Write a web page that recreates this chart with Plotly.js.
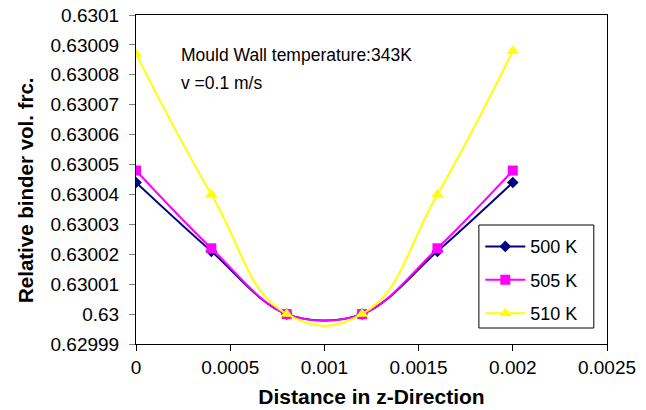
<!DOCTYPE html>
<html>
<head>
<meta charset="utf-8">
<script src="https://cdn.plot.ly/plotly-3.0.1.min.js"></script>
<style>html,body{margin:0;padding:0;background:#fff;}#chart{width:646px;height:410px;}</style>
</head>
<body>
<div id="chart"></div>
<script>
// Positions along z (m)
const distance = [0, 0.0004, 0.0008, 0.0012, 0.0016, 0.002];
// Relative binder volume fraction per melt temperature
const binder500 = [0.630044, 0.630021, 0.630000, 0.630000, 0.630021, 0.630044];
const binder505 = [0.630048, 0.630022, 0.630000, 0.630000, 0.630022, 0.630048];
const binder510 = [0.630087, 0.630040, 0.630000, 0.630000, 0.630040, 0.630088];
const seriesNames = ['500 K', '505 K', '510 K'];

const yTickVals = [0.62999, 0.63, 0.63001, 0.63002, 0.63003, 0.63004, 0.63005, 0.63006, 0.63007, 0.63008, 0.63009, 0.6301];
const yTickText = ['0.62999', '0.63', '0.63001', '0.63002', '0.63003', '0.63004', '0.63005', '0.63006', '0.63007', '0.63008', '0.63009', '0.6301'];
const xTickVals = [0, 0.0005, 0.001, 0.0015, 0.002, 0.0025];
const xTickText = ['0', '0.0005', '0.001', '0.0015', '0.002', '0.0025'];

const FONT = 'Liberation Sans, Arial, sans-serif';

function series(y, name, color, symbol, size, smoothing) {
  return {
    x: distance, y: y, name: name, legendgroup: name, type: 'scatter', mode: 'lines+markers',
    line: {color: color, width: 2, shape: 'spline', smoothing: smoothing},
    marker: {color: color, symbol: symbol, size: size, line: {width: 0}}
  };
}

const data = [
  series(binder500, seriesNames[0], '#000080', 'diamond', 9, 1),
  series(binder505, seriesNames[1], '#FF00FF', 'square', 10, 1),
  series(binder510, seriesNames[2], '#FFFF00', 'triangle-up', 11, 1.3)
];

const layout = {
  width: 646, height: 410,
  margin: {l: 136, r: 39, t: 15, b: 66},
  paper_bgcolor: '#fff', plot_bgcolor: '#fff',
  font: {family: FONT, size: 19, color: '#000'},
  showlegend: true,
  legend: {
    x: 0.731, y: 0.352, xanchor: 'left', yanchor: 'top',
    bgcolor: 'rgba(0,0,0,0)', borderwidth: 0,
    font: {family: FONT, size: 18, color: '#000'},
    tracegroupgap: 7, itemwidth: 40
  },
  xaxis: {
    range: [0, 0.0025], tickvals: xTickVals, ticktext: xTickText,
    showgrid: false, zeroline: false, showline: true, mirror: true,
    linecolor: '#000', linewidth: 1,
    ticks: 'outside', ticklen: 6, tickcolor: '#000',
    tickfont: {family: FONT, size: 19},
    title: {text: '<b>Distance in z-Direction</b>', font: {family: FONT, size: 21}, standoff: 12}
  },
  yaxis: {
    range: [0.62999, 0.6301], tickvals: yTickVals, ticktext: yTickText,
    showgrid: false, zeroline: false, showline: true, mirror: true,
    linecolor: '#000', linewidth: 1,
    ticks: 'outside', ticklen: 6, tickcolor: '#808080',
    ticklabelstandoff: 6,
    tickfont: {family: FONT, size: 19}
  },
  shapes: [
    // legend frame
    {type: 'rect', xref: 'paper', yref: 'paper', x0: 0.728, x1: 0.972, y0: 0.0486, y1: 0.3617,
     line: {color: '#000', width: 1}, fillcolor: '#fff', layer: 'above'}
  ],
  annotations: [
    {xref: 'paper', yref: 'paper', x: -0.2357, y: 0.468, xanchor: 'center', yanchor: 'middle',
     textangle: -90, text: '<b>Relative binder vol. frc.</b>', showarrow: false,
     font: {family: FONT, size: 20.5}},
    {xref: 'paper', yref: 'paper', x: 0.092, y: 0.878, xanchor: 'left', yanchor: 'middle',
     text: 'Mould Wall temperature:343K', showarrow: false, font: {family: FONT, size: 17.5}},
    {xref: 'paper', yref: 'paper', x: 0.092, y: 0.793, xanchor: 'left', yanchor: 'middle',
     text: 'v =0.1 m/s', showarrow: false, font: {family: FONT, size: 17.5}}
  ]
};

Plotly.newPlot('chart', data, layout, {displayModeBar: false, staticPlot: true});
</script>
</body>
</html>
